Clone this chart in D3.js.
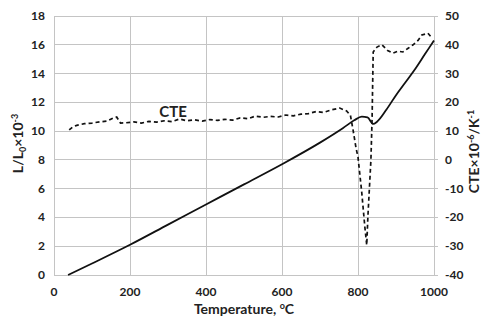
<!DOCTYPE html>
<html>
<head>
<meta charset="utf-8">
<script src="https://cdn.jsdelivr.net/npm/d3@7"></script>
<style>
  body { margin: 0; background: #fff; }
  text { font-family: Lato, "Open Sans", sans-serif; font-weight: bold; fill: #222; }
</style>
</head>
<body>
<svg id="chart" width="484" height="320"></svg>
<script>
// dilatometry: relative elongation (left axis) and CTE (right axis)
const tempTicks = [0, 200, 400, 600, 800, 1000];
const leftTicks = [0, 2, 4, 6, 8, 10, 12, 14, 16, 18];
const rightTicks = [-40, -30, -20, -10, 0, 10, 20, 30, 40, 50];

const elongT = [37, 100, 200, 300, 400, 500, 600, 700, 760, 790, 810, 825, 840, 850, 875, 900, 925, 950, 975, 1000];
const elongL = [0, 0.8, 2.1, 3.5, 4.9, 6.3, 7.7, 9.2, 10.2, 10.75, 11.0, 10.95, 10.5, 10.65, 11.5, 12.5, 13.4, 14.3, 15.3, 16.3];

const cteT = [40, 50, 60, 80, 100, 120, 140, 155, 165, 175, 190, 210, 230, 250, 270, 290, 310, 330, 350, 370,
  390, 410, 430, 450, 470, 490, 510, 530, 550, 570, 590, 610, 630, 650, 670, 690, 710, 730, 752, 770,
  780, 787, 795, 800, 810, 818, 823, 826, 834, 837, 840, 850, 863, 878, 892, 905, 918, 932, 945, 958,
  968, 984, 995];
const cteV = [10.4, 11.5, 12.0, 12.6, 12.8, 13.2, 13.5, 14.5, 14.9, 12.8, 12.9, 13.2, 12.8, 13.4, 13.1, 13.6, 13.3, 14.2, 13.6, 13.9,
  13.5, 14.0, 13.7, 14.1, 13.8, 14.6, 14.3, 15.2, 14.8, 15.1, 14.9, 15.6, 15.3, 15.9, 16.1, 16.8, 16.5, 17.4, 18.0, 17.0,
  15.5, 10.4, 4, 1.0, -11.5, -23.3, -29.6, -19.8, 0, 13.9, 37.5, 39.2, 40, 38, 37.1, 37.8, 37.5, 38.8, 40, 41.5,
  43.4, 44, 42.3];

const svg = d3.select('#chart');
const margin = { left: 54, right: 50, top: 16, bottom: 45 };
const W = 484, H = 320;

const x = d3.scaleLinear().domain([0, 1000]).range([margin.left, W - margin.right]);
const yL = d3.scaleLinear().domain([0, 18]).range([H - margin.bottom, margin.top]);
const yR = d3.scaleLinear().domain([-40, 50]).range([H - margin.bottom, margin.top]);

const grid = svg.append('g').attr('stroke', '#c4c4c4').attr('stroke-width', 1).attr('shape-rendering', 'crispEdges');
grid.selectAll('.h').data(leftTicks).join('line')
  .attr('x1', x(0)).attr('x2', x(1000))
  .attr('y1', d => yL(d)).attr('y2', d => yL(d));
grid.selectAll('.v').data(tempTicks).join('line')
  .attr('x1', d => x(d)).attr('x2', d => x(d))
  .attr('y1', yL(0)).attr('y2', yL(18));
// little outward ticks on right axis
grid.selectAll('.rt').data(rightTicks).join('line')
  .attr('x1', x(1000)).attr('x2', x(1000) + 4)
  .attr('y1', d => yR(d)).attr('y2', d => yR(d));

// tick labels
svg.append('g').selectAll('text').data(leftTicks).join('text')
  .attr('x', margin.left - 9).attr('y', d => yL(d) + 4)
  .attr('text-anchor', 'end').attr('font-size', 12).text(d => d);
svg.append('g').selectAll('text').data(rightTicks).join('text')
  .attr('x', x(1000) + 11).attr('y', d => yR(d) + 4)
  .attr('text-anchor', 'start').attr('font-size', 12).text(d => d);
svg.append('g').selectAll('text').data(tempTicks).join('text')
  .attr('x', d => x(d)).attr('y', H - margin.bottom + 21)
  .attr('text-anchor', 'middle').attr('font-size', 12).text(d => d);

// axis titles
const xt = svg.append('text').attr('x', (x(0) + x(1000)) / 2).attr('y', 314)
  .attr('text-anchor', 'middle').attr('font-size', 14);
xt.append('tspan').text('Temperature, ');
xt.append('tspan').attr('font-size', 9).attr('dy', -5).text('o');
xt.append('tspan').attr('dy', 5).text('C');

const lt = svg.append('text').attr('transform', `translate(23,${(yL(0) + yL(18)) / 2 - 2}) rotate(-90)`)
  .attr('text-anchor', 'middle').attr('font-size', 14);
lt.append('tspan').text('L/L');
lt.append('tspan').attr('font-size', 9).attr('dy', 3).text('0');
lt.append('tspan').attr('dy', -3).text('×10');
lt.append('tspan').attr('font-size', 9).attr('dy', -5).text('-3');

const rt = svg.append('text').attr('transform', `translate(479,${(yL(0) + yL(18)) / 2 + 6}) rotate(-90)`)
  .attr('text-anchor', 'middle').attr('font-size', 14);
rt.append('tspan').text('CTE×10');
rt.append('tspan').attr('font-size', 9).attr('dy', -5).text('-6');
rt.append('tspan').attr('dy', 5).text('/K');
rt.append('tspan').attr('font-size', 9).attr('dy', -5).text('-1');

// series
const elong = d3.line().x((d, i) => x(elongT[i])).y(d => yL(d)).curve(d3.curveMonotoneX);
svg.append('path').attr('d', elong(elongL))
  .attr('fill', 'none').attr('stroke', '#111').attr('stroke-width', 1.8);

const cte = d3.line().x((d, i) => x(cteT[i])).y(d => yR(d));
svg.append('path').attr('d', cte(cteV))
  .attr('fill', 'none').attr('stroke', '#111').attr('stroke-width', 1.7)
  .attr('stroke-dasharray', '4,3');

svg.append('text').attr('x', 173).attr('y', 117).attr('text-anchor', 'middle')
  .attr('font-size', 15).text('CTE');
</script>
</body>
</html>
